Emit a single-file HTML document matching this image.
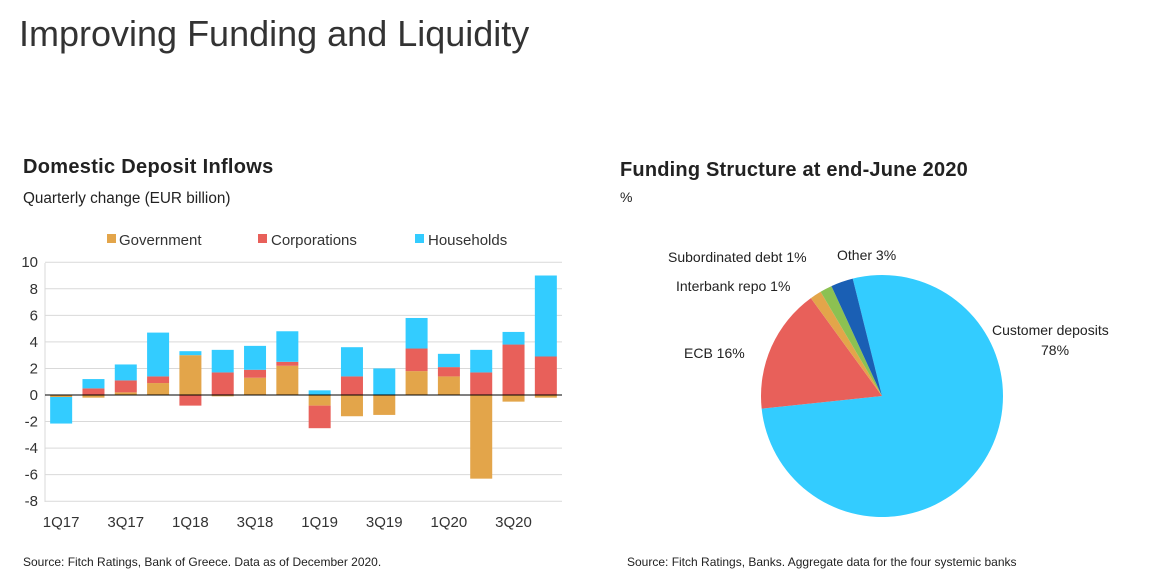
<!DOCTYPE html>
<html><head><meta charset="utf-8"><style>
body{margin:0;width:1151px;height:579px;background:#fff;font-family:"Liberation Sans",sans-serif;overflow:hidden;position:relative}
.t{position:absolute;white-space:nowrap;color:#222}
</style></head><body>
<div class="t" style="left:19px;top:13px;font-size:36px;color:#333">Improving Funding and Liquidity</div>
<div class="t" style="left:23px;top:156px;font-size:20px;font-weight:bold;letter-spacing:0.3px">Domestic Deposit Inflows</div>
<div class="t" style="left:23px;top:190px;font-size:15.3px">Quarterly change (EUR billion)</div>
<div class="t" style="left:620px;top:159px;font-size:20px;font-weight:bold;letter-spacing:0.2px">Funding Structure at end-June 2020</div>
<div class="t" style="left:620px;top:189px;font-size:14px">%</div>
<div class="t" style="left:23px;top:555px;font-size:12px">Source: Fitch Ratings, Bank of Greece. Data as of December 2020.</div>
<div class="t" style="left:627px;top:555px;font-size:12px">Source: Fitch Ratings, Banks. Aggregate data for the four systemic banks</div>
<svg width="1151" height="579" style="position:absolute;left:0;top:0" font-family="Liberation Sans, sans-serif">
<g font-size="15" fill="#333">
<rect x="107" y="234" width="9" height="9" fill="#e3a54a"/><text x="119" y="245">Government</text>
<rect x="258" y="234" width="9" height="9" fill="#e8605a"/><text x="271" y="245">Corporations</text>
<rect x="415" y="234" width="9" height="9" fill="#33ccff"/><text x="428" y="245">Households</text>
</g>
<g id="chart"></g>
<g id="pie"></g>
<g font-size="14" fill="#222">
<text x="668" y="262">Subordinated debt 1%</text>
<text x="837" y="260">Other 3%</text>
<text x="676" y="291">Interbank repo 1%</text>
<text x="684" y="358">ECB 16%</text>
<text x="992" y="335">Customer deposits</text>
<text x="1041" y="355">78%</text>
</g>
</svg>
<script>
var ns="http://www.w3.org/2000/svg";
function el(p,t,a,txt){var e=document.createElementNS(ns,t);for(var k in a)e.setAttribute(k,a[k]);if(txt)e.textContent=txt;p.appendChild(e);return e;}
var g=document.getElementById("chart");
var L=45,R=562,T=263,B=502,y0=395,u=(B-T)/18;
function Y(v){return y0-v*u;}
for(var v=-8;v<=10;v+=2){el(g,"line",{x1:L,x2:R,y1:Y(v),y2:Y(v),stroke:"#d9d9d9","stroke-width":1});
el(g,"text",{x:38,y:Y(v)+5,"text-anchor":"end","font-size":15,fill:"#333"},String(v));}
el(g,"line",{x1:L,x2:L,y1:T,y2:B,stroke:"#d9d9d9"});
var d=[[-0.15,0,-2.0],[-0.2,0.5,0.7],[0.2,0.9,1.2],[0.9,0.5,3.3],[3.0,-0.8,0.3],[-0.1,1.7,1.7],[1.3,0.6,1.8],[2.2,0.3,2.3],[-0.8,-1.7,0.35],[-1.6,1.4,2.2],[-1.5,0,2.0],[1.8,1.7,2.3],[1.4,0.7,1.0],[-6.3,1.7,1.7],[-0.5,3.8,0.95],[-0.2,2.9,6.1]];
var cols=["#e3a54a","#e8605a","#33ccff"],sw=(R-L)/16,bw=22;
d.forEach(function(r,i){var pos=0,neg=0,x=L+sw*i+(sw-bw)/2;
r.forEach(function(v,j){if(v>=0){el(g,"rect",{x:x,y:Y(pos+v),width:bw,height:v*u,fill:cols[j]});pos+=v;}
else{el(g,"rect",{x:x,y:Y(neg),width:bw,height:-v*u,fill:cols[j]});neg+=v;}});});
el(g,"line",{x1:L,x2:R,y1:y0,y2:y0,stroke:"#000","stroke-width":1});
["1Q17","3Q17","1Q18","3Q18","1Q19","3Q19","1Q20","3Q20"].forEach(function(s,k){
el(g,"text",{x:L+sw*(2*k)+sw/2,y:527,"text-anchor":"middle","font-size":15,fill:"#333"},s);});
var p=document.getElementById("pie"),cx=882,cy=396,r=121;
var sl=[[-14,264,"#33ccff"],[264,324,"#e8605a"],[324,329.5,"#e3a54a"],[329.5,335.3,"#8cc152"],[335.3,346,"#1a5fb4"]];
sl.forEach(function(s){var a=s[0]*Math.PI/180,a1=s[1]*Math.PI/180;
var x0=cx+r*Math.sin(a),yy0=cy-r*Math.cos(a),x1=cx+r*Math.sin(a1),y1=cy-r*Math.cos(a1);
el(p,"path",{d:"M"+cx+","+cy+"L"+x0+","+yy0+"A"+r+","+r+" 0 "+(a1-a>Math.PI?1:0)+" 1 "+x1+","+y1+"Z",fill:s[2]});});
</script>
</body></html>
